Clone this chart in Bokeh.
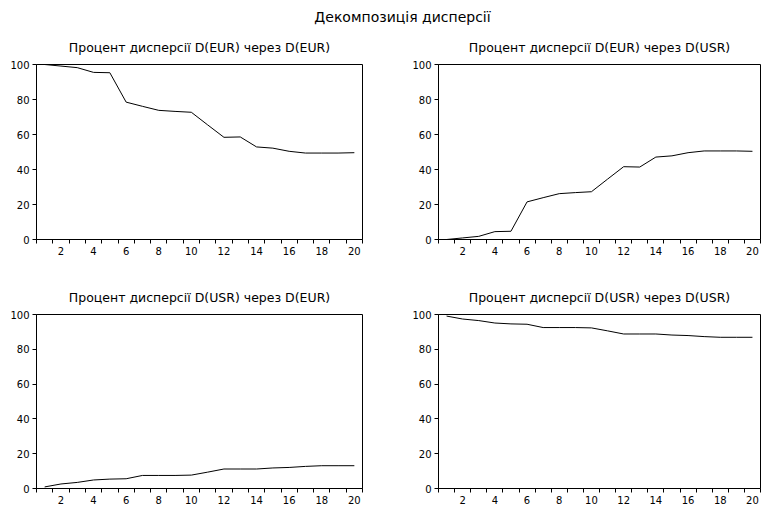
from bokeh.plotting import figure
from bokeh.models import FixedTicker, Label, Range1d
from bokeh.layouts import column, row
from bokeh.embed import file_html
from bokeh.resources import INLINE

# ---- data ----
periods = list(range(1, 21))
eur_by_eur = [100.0, 99.1, 98.2, 95.5, 95.3, 78.5, 76.1, 73.8, 73.2, 72.7,
              65.5, 58.4, 58.6, 52.9, 52.2, 50.4, 49.4, 49.4, 49.4, 49.6]
eur_by_usr = [0.0, 0.9, 1.8, 4.5, 4.7, 21.5, 23.9, 26.2, 26.8, 27.3,
              34.5, 41.6, 41.4, 47.1, 47.8, 49.6, 50.6, 50.6, 50.6, 50.4]
usr_by_eur = [0.9, 2.6, 3.5, 4.9, 5.4, 5.6, 7.5, 7.5, 7.5, 7.7,
              9.4, 11.2, 11.2, 11.2, 11.8, 12.1, 12.7, 13.1, 13.1, 13.1]
usr_by_usr = [99.1, 97.4, 96.5, 95.1, 94.6, 94.4, 92.5, 92.5, 92.5, 92.3,
              90.6, 88.8, 88.8, 88.8, 88.2, 87.9, 87.3, 86.9, 86.9, 86.9]
y_ticks = [0, 20, 40, 60, 80, 100]
x_label_ticks = [2, 4, 6, 8, 10, 12, 14, 16, 18, 20]
main_title = "Декомпозиція дисперсії"
subtitles = ["Процент дисперсії D(EUR) через D(EUR)",
             "Процент дисперсії D(EUR) через D(USR)",
             "Процент дисперсії D(USR) через D(EUR)",
             "Процент дисперсії D(USR) через D(USR)"]

FONT = "DejaVu Sans"
x_bin_ticks = [k + 0.5 for k in range(0, 21)]


def make_panel(series, subtitle, width, height, bl, br, bt, bb, standoff):
    p = figure(width=width, height=height,
               x_range=Range1d(0.5, 20.5), y_range=Range1d(0, 100),
               output_backend="svg", toolbar_location=None,
               min_border_left=bl, min_border_right=br,
               min_border_top=bt, min_border_bottom=bb)
    p.line(periods, series, line_color="black", line_width=1)
    p.xgrid.visible = False
    p.ygrid.visible = False
    p.outline_line_color = "black"
    p.outline_line_width = 1
    p.outline_line_alpha = 1
    p.background_fill_color = "white"
    p.border_fill_color = "white"

    p.title.text = subtitle
    p.title.align = "center"
    p.title.text_font = FONT
    p.title.text_font_size = "12.5px"
    p.title.text_font_style = "normal"
    p.title.text_color = "black"
    p.title.standoff = standoff

    xa = p.xaxis[0]
    xa.ticker = FixedTicker(ticks=x_label_ticks, minor_ticks=x_bin_ticks)
    xa.major_tick_line_color = None
    xa.minor_tick_line_color = "black"
    xa.minor_tick_out = 4
    xa.minor_tick_in = 0
    xa.axis_line_color = "black"
    xa.major_label_text_font = FONT
    xa.major_label_text_font_size = "10px"
    xa.major_label_text_color = "black"
    xa.major_label_standoff = 1

    ya = p.yaxis[0]
    ya.ticker = FixedTicker(ticks=y_ticks)
    ya.major_tick_line_color = "black"
    ya.major_tick_out = 4
    ya.major_tick_in = 0
    ya.minor_tick_line_color = None
    ya.axis_line_color = "black"
    ya.major_label_text_font = FONT
    ya.major_label_text_font_size = "10px"
    ya.major_label_text_color = "black"
    ya.major_label_standoff = 3
    return p


W = 761
header = figure(width=W, height=28, x_range=Range1d(0, W), y_range=Range1d(0, 28),
                output_backend="svg", toolbar_location=None,
                x_axis_type=None, y_axis_type=None,
                min_border_left=0, min_border_right=0,
                min_border_top=0, min_border_bottom=0)
header.outline_line_color = None
header.xgrid.visible = False
header.ygrid.visible = False
header.add_layout(Label(x=402, y=12, text=main_title, text_align="center",
                        text_baseline="middle", text_font=FONT,
                        text_font_size="14px", text_color="black"))

# row 1: frames at y ~64..240 ; row 2: frames at y ~316..489
p1 = make_panel(eur_by_eur, subtitles[0], 382, 231, 36, 20, 36, 20, 19)
p2 = make_panel(eur_by_usr, subtitles[1], 379, 231, 56, 1, 36, 20, 19)
p3 = make_panel(usr_by_eur, subtitles[2], 382, 247, 36, 20, 55, 17, 20)
p4 = make_panel(usr_by_usr, subtitles[3], 379, 247, 56, 1, 55, 17, 20)

layout = column(header, row(p1, p2), row(p3, p4))
open("out.html", "w").write(file_html(layout, INLINE))
